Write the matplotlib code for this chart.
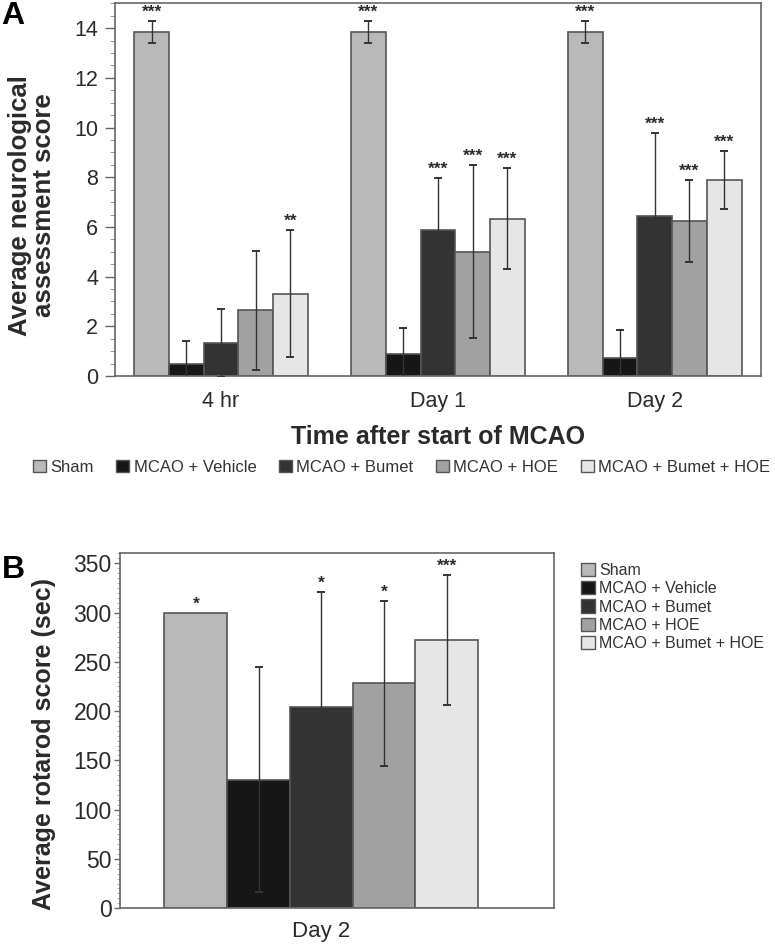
import matplotlib
matplotlib.use("Agg")
import matplotlib.pyplot as plt
import numpy as np
from matplotlib.patches import Patch
from matplotlib.ticker import MultipleLocator

plt.rcParams['font.family'] = ['Liberation Sans', 'DejaVu Sans']

groups = ["Sham", "MCAO + Vehicle", "MCAO + Bumet", "MCAO + HOE", "MCAO + Bumet + HOE"]
colors = ["#b9b9b9", "#161616", "#333333", "#a1a1a1", "#e6e6e6"]

# Panel A
timepoints = ["4 hr", "Day 1", "Day 2"]
a_means = {
    "Sham": [13.85, 13.85, 13.85],
    "MCAO + Vehicle": [0.47, 0.89, 0.71],
    "MCAO + Bumet": [1.32, 5.86, 6.43],
    "MCAO + HOE": [2.64, 5.0, 6.23],
    "MCAO + Bumet + HOE": [3.31, 6.33, 7.88],
}
a_errs = {
    "Sham": [0.45, 0.45, 0.45],
    "MCAO + Vehicle": [0.92, 1.06, 1.14],
    "MCAO + Bumet": [1.37, 2.12, 3.36],
    "MCAO + HOE": [2.39, 3.48, 1.65],
    "MCAO + Bumet + HOE": [2.55, 2.03, 1.17],
}
a_stars = {
    "Sham": ["***", "***", "***"],
    "MCAO + Vehicle": ["", "", ""],
    "MCAO + Bumet": ["", "***", "***"],
    "MCAO + HOE": ["", "***", "***"],
    "MCAO + Bumet + HOE": ["**", "***", "***"],
}

# Panel B
b_label = ["Day 2"]
b_means = [300, 130.5, 204, 228, 272.5]
b_errs = [0, 114.5, 117, 84, 66]
b_stars = ["*", "", "*", "*", "***"]

fig = plt.figure(figsize=(7.75, 9.46), dpi=100)

edge = "#555555"
errc = "#333333"
spc = "#666666"
txtc = "#2a2a2a"

# ---------- Panel A ----------
axA = fig.add_axes([0.148, 0.6025, 0.834, 0.394])
w = 0.16
x = np.arange(len(timepoints))
for i, g in enumerate(groups):
    xs = x + (i - 2) * w
    axA.bar(xs, a_means[g], width=w, color=colors[i], edgecolor=edge, linewidth=1.2, zorder=2)
    axA.errorbar(xs, a_means[g], yerr=a_errs[g], fmt='none', ecolor=errc, elinewidth=1.0,
                 capsize=3, capthick=1.4, zorder=3)
    for xx, m, e, s in zip(xs, a_means[g], a_errs[g], a_stars[g]):
        if s:
            axA.text(xx, m + e + 0.05, s, ha='center', va='bottom', fontsize=12.5,
                     fontweight='bold', color=txtc)
axA.set_xlim(-0.49, 2.49)
axA.set_ylim(0, 15)
axA.set_xticks(x)
axA.set_xticklabels(timepoints, fontsize=15.5, color=txtc)
axA.tick_params(axis='x', length=0, pad=11)
axA.set_yticks(np.arange(0, 15, 2))
axA.yaxis.set_minor_locator(MultipleLocator(0.5))
axA.tick_params(axis='y', which='major', labelsize=15.5, length=7, width=1.0, color=spc,
                labelcolor=txtc, pad=5)
axA.tick_params(axis='y', which='minor', length=3.5, color='#888888')
for sp in axA.spines.values():
    sp.set_color(spc)
    sp.set_linewidth(1.2)
axA.set_ylabel("Average neurological\nassessment score", fontsize=18.5, fontweight='bold',
               color=txtc, linespacing=1.0)
axA.yaxis.set_label_coords(-0.128, 0.458)
axA.yaxis.label.set_verticalalignment('center')
axA.set_xlabel("Time after start of MCAO", fontsize=18, fontweight='bold', color=txtc,
               labelpad=9)
fig.text(0.002, 0.983, "A", fontsize=23, fontweight='bold', va='center', ha='left')

handles = [Patch(facecolor=c, edgecolor=edge, linewidth=1.0) for c in colors]
fig.legend(handles, groups, loc='center', bbox_to_anchor=(0.518, 0.506), ncol=5, frameon=False,
           fontsize=12, handlelength=0.8, handleheight=0.8, handletextpad=0.25,
           columnspacing=1.35, borderpad=0, labelcolor='#333333')

# ---------- Panel B ----------
axB = fig.add_axes([0.155, 0.040, 0.560, 0.375])
wb = 0.16
for i, g in enumerate(groups):
    xx = (i - 2) * wb
    axB.bar(xx, b_means[i], width=wb, color=colors[i], edgecolor=edge, linewidth=1.2,
            label=g, zorder=2)
    if b_errs[i] > 0:
        axB.errorbar(xx, b_means[i], yerr=b_errs[i], fmt='none', ecolor=errc, elinewidth=1.0,
                     capsize=3, capthick=1.4, zorder=3)
    if b_stars[i]:
        axB.text(xx, b_means[i] + b_errs[i] + 1, b_stars[i], ha='center', va='bottom',
                 fontsize=12.5, fontweight='bold', color=txtc)
axB.set_xlim(-0.513, 0.594)
axB.set_ylim(0, 360)
axB.set_xticks([0])
axB.set_xticklabels(b_label, fontsize=16, color=txtc)
axB.tick_params(axis='x', length=0, pad=9)
axB.set_yticks(np.arange(0, 351, 50))
axB.yaxis.set_minor_locator(MultipleLocator(5))
axB.tick_params(axis='y', which='major', labelsize=16.5, length=4, width=1.0, color=spc,
                labelcolor=txtc, pad=2)
axB.tick_params(axis='y', which='minor', length=2.5, color='#999999')
for sp in axB.spines.values():
    sp.set_color(spc)
    sp.set_linewidth(1.2)
axB.set_ylabel("Average rotarod score (sec)", fontsize=18, fontweight='bold', color=txtc)
axB.yaxis.set_label_coords(-0.175, 0.462)
axB.yaxis.label.set_verticalalignment('center')
fig.text(0.002, 0.397, "B", fontsize=23, fontweight='bold', va='center', ha='left')

fig.legend(handles, groups, loc='upper left', bbox_to_anchor=(0.739, 0.4135), ncol=1,
           frameon=False, fontsize=11.5, handlelength=0.9, handleheight=0.9, handletextpad=0.25,
           labelspacing=0.2, borderpad=0, labelcolor='#333333')

fig.savefig("out.png", dpi=100)
